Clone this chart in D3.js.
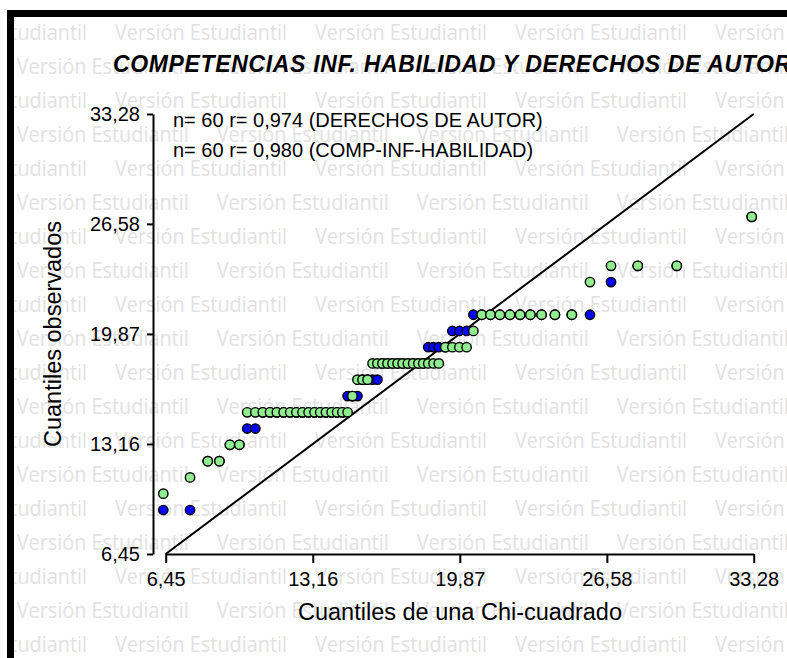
<!DOCTYPE html>
<html>
<head>
<meta charset="utf-8">
<script src="https://cdn.jsdelivr.net/npm/d3@7"></script>
<style>
  body { margin: 0; background: #ffffff; }
  svg { display: block; }
</style>
</head>
<body>
<svg id="chart" width="787" height="658"></svg>
<script>
// ---------------- data ----------------
const chartTitle = "COMPETENCIAS INF. HABILIDAD Y DERECHOS DE AUTOR";
const seriesNames = ["DERECHOS DE AUTOR", "COMP-INF-HABILIDAD"];
const seriesN = [60, 60];
const seriesR = ["0,974", "0,980"];
const seriesColors = ["#0000ff", "#90ee90"];
const tickValues = [6.45, 13.16, 19.87, 26.58, 33.28];
const tickLabels = ["6,45", "13,16", "19,87", "26,58", "33,28"];
const xTitle = "Cuantiles de una Chi-cuadrado";
const yTitle = "Cuantiles observados";
const watermarkText = "Versión Estudiantil";

// theoretical chi-square quantiles (x), shared by both series
const chiQuantiles = [
  6.34, 7.56, 8.37, 8.90, 9.38, 9.81, 10.17, 10.54, 10.88, 11.21,
  11.52, 11.83, 12.13, 12.41, 12.69, 12.97, 13.24, 13.50, 13.76, 14.02,
  14.27, 14.51, 14.75, 14.97, 15.20, 15.43, 15.66, 15.89, 16.11, 16.34,
  16.57, 16.80, 17.03, 17.26, 17.50, 17.74, 17.98, 18.20, 18.43, 18.67,
  18.91, 19.21, 19.53, 19.85, 20.18, 20.49, 20.87, 21.27, 21.70, 22.16,
  22.62, 23.09, 23.60, 24.21, 24.98, 25.81, 26.77, 27.99, 29.77, 33.19
];

// observed quantiles, DERECHOS DE AUTOR (blue)
const obsDerechos = [
  9.13, 9.13, 12.11, 12.11, 13.11, 13.11, 14.10, 14.10, 15.09, 15.09,
  15.09, 15.09, 15.09, 15.09, 15.09, 15.09, 15.09, 15.09, 15.09, 15.09,
  15.09, 15.09, 16.08, 16.08, 16.08, 17.08, 17.08, 17.08, 17.08, 18.07,
  18.07, 18.07, 18.07, 18.07, 18.07, 18.07, 18.07, 18.07, 19.06, 19.06,
  19.06, 19.06, 20.05, 20.05, 20.05, 21.04, 21.04, 21.04, 21.04, 21.04,
  21.04, 21.04, 21.04, 21.04, 21.04, 21.04, 23.03, 24.02, 24.02, 27.01
];

// observed quantiles, COMP-INF-HABILIDAD (green)
const obsCompInf = [
  10.13, 11.12, 12.11, 12.11, 13.11, 13.11, 15.09, 15.09, 15.09, 15.09,
  15.09, 15.09, 15.09, 15.09, 15.09, 15.09, 15.09, 15.09, 15.09, 15.09,
  15.09, 15.09, 15.09, 16.08, 17.08, 17.08, 17.08, 18.07, 18.07, 18.07,
  18.07, 18.07, 18.07, 18.07, 18.07, 18.07, 18.07, 18.07, 18.07, 18.07,
  18.07, 19.06, 19.06, 19.06, 19.06, 20.05, 21.04, 21.04, 21.04, 21.04,
  21.04, 21.04, 21.04, 21.04, 21.04, 23.03, 24.02, 24.02, 24.02, 27.01
];

// ---------------- drawing ----------------
const W = 787, H = 658;
const FONT = "'Liberation Sans', Arial, Helvetica, sans-serif";
const svg = d3.select("#chart");

svg.append("rect").attr("width", W).attr("height", H).attr("fill", "#ffffff");

svg.append("defs").append("clipPath").attr("id", "inner")
  .append("rect").attr("x", 14).attr("y", 17).attr("width", W).attr("height", H);

// watermark
const wm = svg.append("g").attr("clip-path", "url(#inner)").attr("fill", "#e2e2e2")
  .style("font-family", "'Open Sans', 'DejaVu Sans', sans-serif")
  .style("font-size", "21px");
for (let k = 0; k <= 18; k++) {
  const base = 40 + 34 * k;
  const start = (k % 2 === 0) ? -85 : 16.7;
  for (let xs = start; xs < W; xs += 200) {
    wm.append("text").attr("x", xs).attr("y", base)
      .attr("textLength", 172).attr("lengthAdjust", "spacingAndGlyphs")
      .text(watermarkText);
  }
}

// border
svg.append("rect").attr("x", 10.5).attr("y", 13.5)
  .attr("width", 1000).attr("height", 1000)
  .attr("fill", "none").attr("stroke", "#000").attr("stroke-width", 7);

const x = d3.scaleLinear().domain([6.45, 33.28]).range([165.7, 753.7]);
const y = d3.scaleLinear().domain([6.45, 33.28]).range([554, 114]);

// axes
const yAxis = d3.axisLeft(y).tickValues(tickValues)
  .tickFormat((d, i) => tickLabels[i]).tickSize(6).tickSizeOuter(0).tickPadding(7);
const gy = svg.append("g").attr("transform", "translate(153,0)").call(yAxis);

const xAxis = d3.axisBottom(x).tickValues(tickValues)
  .tickFormat((d, i) => tickLabels[i]).tickSize(9).tickSizeOuter(0).tickPadding(9);
const gx = svg.append("g").attr("transform", "translate(0,554)").call(xAxis);

[gx, gy].forEach(g => {
  g.attr("font-family", null).attr("font-size", null);
  g.selectAll("path.domain").attr("stroke", "#000").attr("stroke-width", 2);
  g.selectAll(".tick line").attr("stroke", "#000").attr("stroke-width", 2);
  g.selectAll(".tick text").attr("fill", "#000")
    .style("font-family", FONT).style("font-size", "20px");
});

// reference line y = x
svg.append("line")
  .attr("x1", x(tickValues[0])).attr("y1", y(tickValues[0]))
  .attr("x2", x(tickValues[tickValues.length - 1])).attr("y2", y(tickValues[tickValues.length - 1]))
  .attr("stroke", "#000").attr("stroke-width", 2);

// points: blue first, green on top
const series = [obsDerechos, obsCompInf];
series.forEach((obs, s) => {
  svg.append("g").selectAll("circle")
    .data(obs.map((v, i) => ({ q: chiQuantiles[i], v })))
    .join("circle")
    .attr("cx", d => x(d.q))
    .attr("cy", d => y(d.v))
    .attr("r", 4.7)
    .attr("fill", seriesColors[s])
    .attr("stroke", "#000")
    .attr("stroke-width", 1.4);
});

// title
svg.append("text").attr("x", 113).attr("y", 71.5)
  .style("font-family", FONT).style("font-size", "23px")
  .style("font-weight", "bold").style("font-style", "italic")
  .style("letter-spacing", "0.65px")
  .text(chartTitle);

// legend / stats
seriesNames.forEach((name, i) => {
  svg.append("text").attr("x", 173).attr("y", 127 + 30 * i)
    .style("font-family", FONT).style("font-size", "20px")
    .text(`n= ${seriesN[i]} r= ${seriesR[i]} (${name})`);
});

// axis titles
svg.append("text").attr("x", 460).attr("y", 620).attr("text-anchor", "middle")
  .style("font-family", FONT).style("font-size", "23.5px").text(xTitle);
svg.append("text").attr("transform", "translate(61,334) rotate(-90)")
  .attr("text-anchor", "middle")
  .style("font-family", FONT).style("font-size", "23.5px").text(yTitle);
</script>
</body>
</html>
